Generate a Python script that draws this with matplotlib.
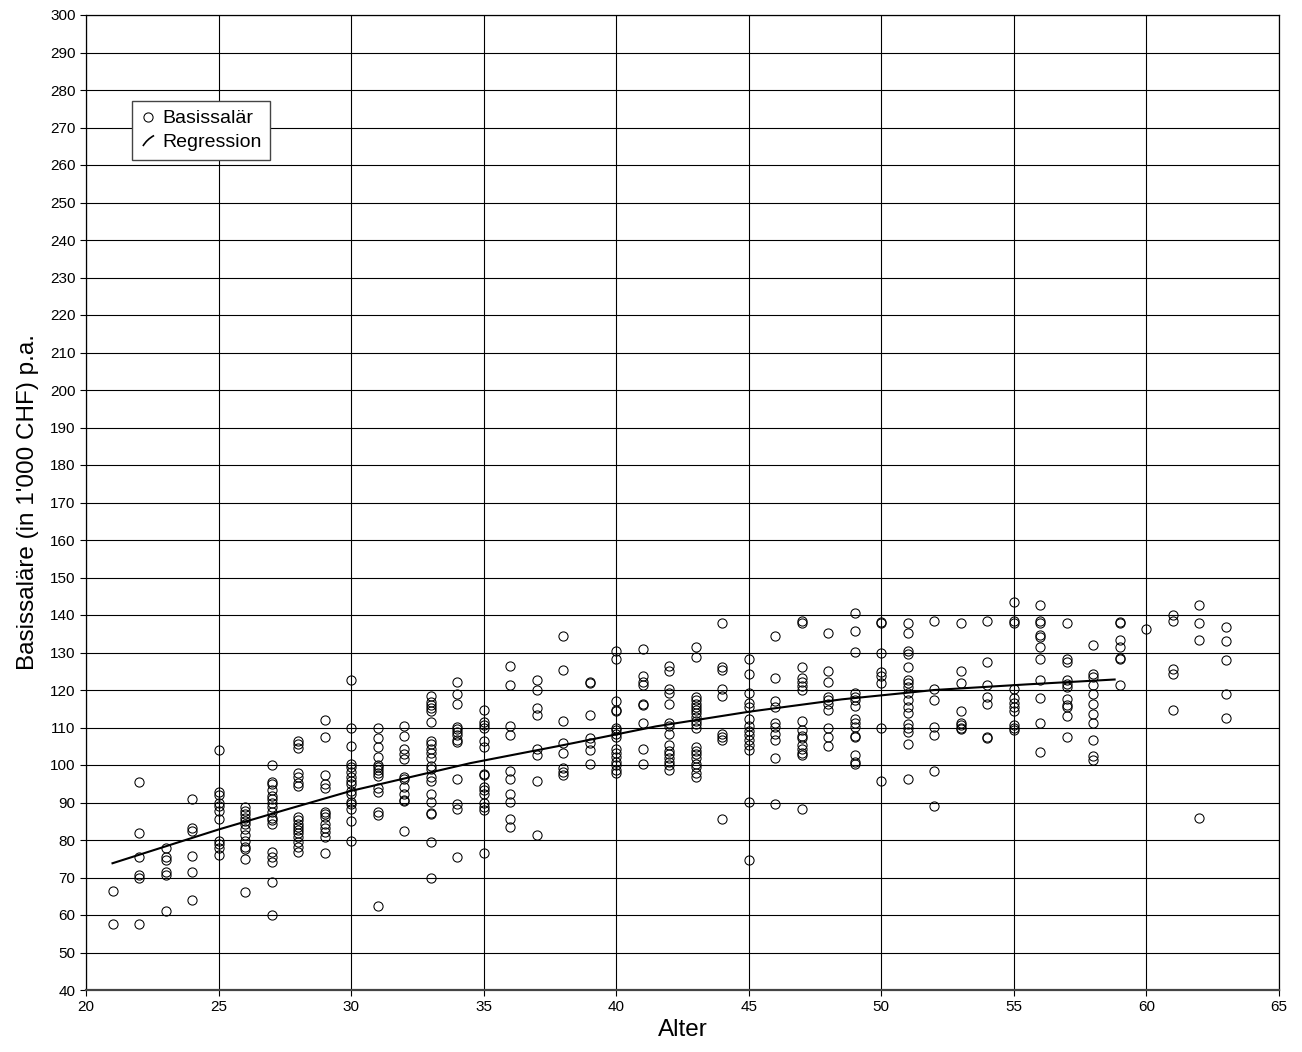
import numpy as np
import matplotlib
matplotlib.use('Agg')
import matplotlib.pyplot as plt
from matplotlib.lines import Line2D
from matplotlib.path import Path

plt.rcParams['font.family'] = ['Liberation Sans', 'DejaVu Sans']

# Basissaläre (in 1'000 CHF) je Alter
alter_gruppen = list(range(21, 64))
salaer_je_alter = [
    [66.5, 57.7],
    [95.4, 81.9, 75.4, 70.8, 70.0, 57.6],
    [77.9, 75.4, 74.7, 71.4, 70.7, 61.2],
    [90.9, 83.2, 82.5, 75.8, 71.6, 64.1],
    [104.0, 92.7, 92.0, 90.0, 89.2, 87.8, 85.6, 79.8, 78.9, 78.0, 76.0],
    [88.9, 87.8, 86.9, 86.0, 85.2, 84.3, 82.9, 81.4, 79.8, 78.2, 77.6, 74.9, 66.2],
    [100.0, 95.6, 94.9, 93.3, 91.8, 90.9, 90.0, 88.9, 87.4, 86.0, 85.3, 84.4, 76.7, 75.4, 74.2, 68.9, 60.0],
    [106.3, 105.5, 104.6, 97.8, 96.7, 95.3, 94.4, 86.2, 85.3, 84.4, 83.6, 82.7, 82.0, 80.9, 79.6, 78.2, 76.9],
    [112.0, 107.6, 97.3, 94.9, 94.0, 87.6, 86.9, 86.2, 84.4, 83.1, 82.2, 80.9, 76.6],
    [122.7, 109.8, 105.1, 100.3, 99.6, 98.2, 96.9, 95.8, 94.9, 93.2, 92.4, 90.2, 89.6, 88.4, 85.1, 79.8],
    [110.0, 107.1, 104.7, 102.2, 100.0, 99.4, 98.7, 97.8, 97.1, 93.8, 92.9, 87.6, 86.7, 62.4],
    [110.4, 107.7, 104.2, 102.9, 101.5, 96.7, 96.2, 94.2, 92.4, 90.8, 90.4, 82.4],
    [118.4, 116.9, 116.0, 115.1, 114.5, 111.6, 106.5, 105.6, 104.2, 103.1, 101.8, 99.7, 98.9, 96.9, 95.8,
     92.3, 90.2, 87.3, 86.9, 79.6, 70.0],
    [122.2, 118.9, 116.4, 110.2, 109.5, 108.9, 108.0, 106.8, 106.2, 96.4, 89.6, 88.4, 75.4],
    [114.7, 111.6, 110.7, 110.0, 106.5, 104.9, 97.6, 97.3, 94.2, 93.3, 92.4, 90.0, 88.9, 88.0, 76.6],
    [126.4, 121.3, 110.4, 108.0, 98.5, 96.2, 92.4, 90.2, 85.5, 83.6],
    [122.7, 120.0, 115.1, 113.3, 104.2, 102.7, 95.8, 81.3],
    [134.5, 125.3, 111.8, 105.8, 103.1, 99.1, 98.2, 97.3],
    [122.2, 121.9, 113.3, 107.1, 105.8, 104.0, 100.4],
    [130.5, 128.4, 117.2, 114.8, 114.5, 110.0, 109.3, 108.4, 107.6, 104.4, 103.3, 102.2, 100.9, 100.0, 98.8, 97.8],
    [130.9, 123.7, 122.2, 121.3, 116.3, 116.0, 111.3, 104.2, 100.2],
    [126.4, 125.2, 120.2, 119.3, 116.3, 111.3, 110.4, 108.3, 105.3, 103.8, 102.9, 102.0, 100.9, 100.0, 98.8],
    [131.6, 128.9, 118.2, 117.3, 116.3, 115.6, 114.7, 113.8, 112.9, 111.8, 110.9, 109.8, 104.9, 103.8, 102.9,
     101.8, 100.4, 99.4, 98.0, 96.9],
    [138.0, 126.2, 125.3, 120.4, 118.4, 108.4, 107.6, 106.8, 85.5],
    [128.4, 124.3, 119.1, 116.6, 115.6, 112.4, 110.4, 109.1, 108.0, 106.7, 105.3, 104.0, 90.2, 74.8],
    [134.5, 123.1, 117.2, 115.4, 111.3, 110.2, 108.4, 106.8, 101.8, 89.6],
    [138.5, 138.0, 126.2, 123.1, 122.2, 121.1, 120.0, 111.8, 109.3, 107.7, 107.1, 105.3, 104.2, 103.3, 102.7, 88.4],
    [135.1, 125.2, 122.2, 118.2, 117.3, 116.3, 114.7, 110.0, 107.4, 105.2],
    [140.6, 135.8, 130.2, 119.1, 118.2, 117.3, 115.7, 112.4, 111.3, 110.2, 107.7, 107.4, 102.7, 100.9, 100.3],
    [138.2, 138.0, 129.8, 124.9, 123.7, 121.8, 109.8, 95.7],
    [138.0, 135.3, 130.4, 129.6, 126.2, 122.7, 122.0, 120.9, 119.3, 117.3, 115.4, 114.0, 110.9, 109.8, 108.9,
     105.6, 96.2],
    [138.5, 120.2, 117.3, 110.2, 108.0, 98.4, 89.1],
    [138.0, 125.2, 121.8, 114.5, 111.3, 110.7, 110.0, 109.5],
    [138.5, 127.6, 121.3, 118.2, 116.3, 107.4, 107.1],
    [143.6, 138.4, 138.0, 120.4, 117.8, 116.6, 115.6, 114.5, 110.7, 110.0, 109.3],
    [142.7, 138.5, 137.9, 134.8, 134.2, 131.6, 128.2, 122.8, 118.0, 111.1, 103.6],
    [138.0, 128.4, 127.6, 122.7, 121.6, 120.9, 117.5, 116.0, 115.4, 113.1, 107.6],
    [132.0, 124.4, 123.6, 121.3, 118.9, 116.2, 113.5, 111.3, 106.8, 102.4, 101.3],
    [138.2, 138.0, 133.3, 131.6, 128.6, 128.4, 121.3],
    [136.3],
    [140.0, 138.5, 125.5, 124.3, 114.7],
    [142.7, 138.0, 133.3, 85.8],
    [136.7, 133.1, 128.0, 118.9, 112.6],
]

# Regressionskurve
reg_alter = [21, 25, 27.5, 30, 34.5, 38, 41.5, 45, 48.5, 52, 55.5, 58.8]
reg_salaer = [73.8, 82.8, 88.0, 93.1, 100.5, 105.3, 110.3, 114.2, 117.5, 120.0, 121.5, 122.8]

x = np.concatenate([[a] * len(v) for a, v in zip(alter_gruppen, salaer_je_alter)])
y = np.concatenate(salaer_je_alter)

fig = plt.figure(figsize=(13.02, 10.52), dpi=100)
ax = fig.add_axes([86 / 1302, 1 - 990 / 1052, (1279 - 86) / 1302, (990 - 15) / 1052])

ax.set_xlim(20, 65)
ax.set_ylim(40, 300)
ax.set_xticks(np.arange(20, 66, 5))
ax.set_yticks(np.arange(40, 301, 10))
ax.grid(True, color='black', linewidth=0.8)
ax.set_axisbelow(True)

ax.plot(x, y, linestyle='none', marker='o', markersize=6.6, markerfacecolor='none',
        markeredgecolor='black', markeredgewidth=0.75, zorder=3)
ax.plot(reg_alter, reg_salaer, color='black', linewidth=1.5, zorder=4)

for s in ax.spines.values():
    s.set_color('black')
    s.set_linewidth(0.9)
ax.spines['bottom'].set_color('#444444')
ax.spines['bottom'].set_linewidth(1.6)

ax.tick_params(direction='out', length=4.5, width=0.8, labelsize=11, pad=3)

ax.set_xlabel('Alter', fontsize=17.5, labelpad=3)
ax.set_ylabel("Basissaläre (in 1'000 CHF) p.a.", fontsize=17.5, labelpad=8)

strich = Path([(-1.0, -1.0), (-0.3, 0.2), (1.0, 0.9)], [Path.MOVETO, Path.CURVE3, Path.CURVE3])
handles = [
    Line2D([], [], linestyle='none', marker='o', markersize=6.6, markerfacecolor='none',
           markeredgecolor='black', markeredgewidth=0.75),
    Line2D([], [], linestyle='none', marker=strich, markersize=8, markerfacecolor='none',
           markeredgecolor='black', markeredgewidth=1.2),
]
leg = ax.legend(handles, ['Basissalär', 'Regression'], loc='upper left',
                bbox_to_anchor=((132 - 86) / 1193, (990 - 101) / 975), borderaxespad=0,
                fontsize=14, frameon=True, fancybox=False, framealpha=1,
                edgecolor='#444444', handlelength=0.7, handletextpad=0.4,
                borderpad=0.45, labelspacing=0.3)
leg.get_frame().set_linewidth(1.0)

fig.savefig('out.png', dpi=100)
